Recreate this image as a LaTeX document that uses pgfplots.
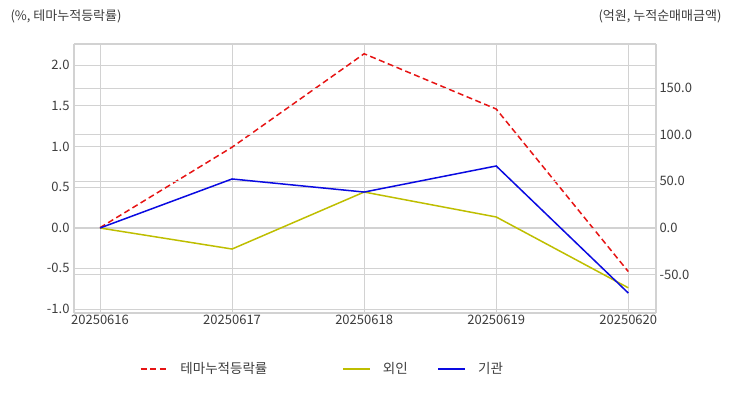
\documentclass[border=0pt]{standalone}
\usepackage{pgfplots}
\pgfplotsset{compat=1.18}
\usepackage{fontspec}
\setmainfont{Noto Sans CJK KR}
\definecolor{myred}{RGB}{230,20,20}
\definecolor{myyel}{RGB}{190,190,0}
\definecolor{myblue}{RGB}{10,10,225}
\definecolor{gridc}{RGB}{210,210,210}
\definecolor{txt}{RGB}{60,60,60}
\begin{document}
\begin{tikzpicture}[x=1pt,y=1pt]
\useasboundingbox (0,0) rectangle (732,392);
\pgfplotsset{
  base/.style={
    at={(74pt,79pt)}, anchor=south west,
    scale only axis, width=582pt, height=269pt,
    xmin=-0.197, xmax=4.21,
    axis line style={gridc, line width=1.5pt},
    major tick length=0pt,
    tick style={draw=none},
    grid=major, major grid style={gridc, line width=0.8pt},
    ticklabel style={font=\fontsize{13}{15}\selectfont, text=txt},
    /pgf/number format/assume math mode=true,
    /pgf/number format/.cd, fixed, fixed zerofill, precision=1,
  },
}
\begin{axis}[base,
  ymin=-1.05, ymax=2.26,
  ytick={-1,-0.5,0,0.5,1,1.5,2},
  xtick={0,1,2,3,4},
  xticklabels={20250616,20250617,20250618,20250619,20250620},
  axis y line*=left, axis x line*=bottom,
  yticklabel style={xshift=-1pt},
  xticklabel style={yshift=1pt},
]
\addplot[myred, dash pattern=on 6pt off 3.5pt, line width=1.5pt] coordinates {(0,0) (1,0.99) (2,2.14) (3,1.46) (4,-0.54)};
\end{axis}
\begin{axis}[base,
  ymin=-91, ymax=197,
  ytick={-50,0,50,100,150},
  axis y line*=right, axis x line*=top,
  xtick=\empty,
  legend style={at={(0.113,-0.208)}, anchor=west, draw=none, fill=none,
    legend columns=-1, font=\fontsize{13.5}{15}\selectfont, text=txt,
    inner xsep=0pt,
    /tikz/every odd column/.append style={column sep=10pt},
    /tikz/column 2/.style={column sep=73pt},
    /tikz/column 4/.style={column sep=28pt}},
  legend image code/.code={\draw[#1] (0pt,0pt) -- (27pt,0pt);},
]
\addlegendimage{myred, dash pattern=on 6pt off 3.5pt, line width=1.5pt}
\addlegendentry{테마누적등락률}
\addplot[myyel, line width=1.5pt] coordinates {(0,0) (1,-22.5) (2,38.5) (3,11.8) (4,-64)};
\addlegendentry{외인}
\addplot[myblue, line width=1.5pt] coordinates {(0,0) (1,52.5) (2,38.5) (3,66.4) (4,-69.6)};
\addlegendentry{기관}
\end{axis}
\node[anchor=west, text=txt, font=\fontsize{13}{15}\selectfont] at (7,376) {(\%, 테마누적등락률)};
\node[anchor=east, text=txt, font=\fontsize{13}{15}\selectfont] at (725,376) {(억원, 누적순매매금액)};
\end{tikzpicture}
\end{document}
